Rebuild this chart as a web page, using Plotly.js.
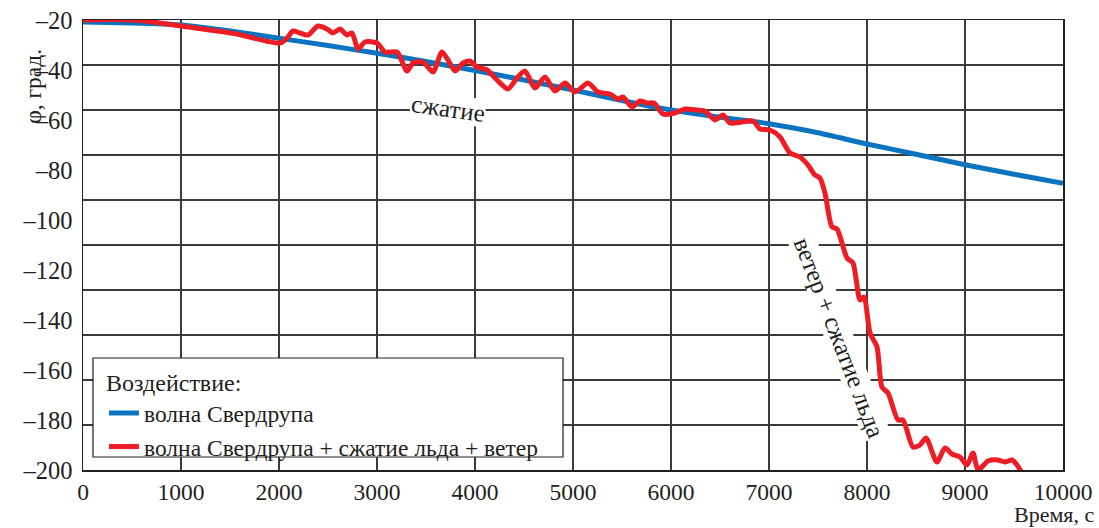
<!DOCTYPE html>
<html>
<head>
<meta charset="utf-8">
<script src="https://cdn.plot.ly/plotly-3.0.1.min.js"></script>
<style>html,body{margin:0;padding:0;background:#fff;}#chart{width:1099px;height:528px;}</style>
</head>
<body>
<div id="chart"></div>
<script>
// Blue: волна Свердрупа
const blueTime = [0, 500, 1000, 1500, 2000, 2500, 3000, 3500, 4000, 4500, 5000, 5500, 6000, 6500, 7000, 7500, 8000, 8500, 9000, 9500, 10000];
const bluePhi  = [-20.8, -21.2, -22, -24.4, -27.3, -30.2, -33.3, -36.6, -40.2, -44, -48, -52.2, -56, -58.9, -61.5, -65.1, -69.6, -73.7, -77.9, -81.7, -85.3];

// Red: волна Свердрупа + сжатие льда + ветер
const redTime = [0, 300, 612, 1000, 1531, 2010, 2082, 2143, 2214, 2296, 2398, 2490, 2551, 2622, 2694, 2745, 2806, 2878, 3000, 3082, 3204, 3306, 3367, 3469, 3571, 3663, 3724, 3796, 3878, 3949, 4020, 4122, 4255, 4337, 4429, 4510, 4612, 4714, 4816, 4918, 5020, 5153, 5255, 5378, 5459, 5510, 5602, 5684, 5755, 5827, 5918, 6041, 6143, 6265, 6347, 6449, 6531, 6602, 6724, 6837, 6908, 7010, 7112, 7214, 7316, 7398, 7469, 7520, 7571, 7643, 7694, 7796, 7857, 7929, 7969, 8031, 8102, 8153, 8214, 8316, 8367, 8469, 8541, 8602, 8714, 8796, 8867, 8949, 9020, 9082, 9133, 9235, 9337, 9408, 9480, 9531, 9582];
const redPhi  = [-20, -19.8, -20.3, -22.4, -25.3, -29.2, -27.2, -24.4, -25.2, -26, -22.4, -23.6, -25.2, -23.6, -26, -25.2, -31.6, -28.8, -29.2, -32.8, -32.8, -40.4, -37.2, -36.8, -40.8, -32.8, -36, -40.4, -37.2, -36.4, -38.8, -40, -45.2, -47.6, -43.2, -40.4, -47.2, -42.8, -48.4, -45.2, -48.8, -45.2, -48.8, -49.6, -51.6, -50.8, -54.8, -52.4, -53.2, -53.2, -57.6, -57.2, -55.6, -56, -56.4, -60, -58, -61.2, -60.8, -60.4, -63.6, -64, -66.8, -73.2, -74.8, -78, -82, -83.2, -89.2, -102.8, -103.6, -115.2, -117.2, -132, -130.8, -145.2, -150.8, -166.8, -169.2, -180, -180, -190.8, -190, -187.2, -196.8, -191.2, -193.6, -194.8, -198, -193.2, -200, -196.4, -196, -196.8, -196, -198, -201.2];

const xTicks = [0, 1000, 2000, 3000, 4000, 5000, 6000, 7000, 8000, 9000, 10000];
const xTickText = ["0", "1000", "2000", "3000", "4000", "5000", "6000", "7000", "8000", "9000", "10000"];
const yTicks = [-20, -40, -60, -80, -100, -120, -140, -160, -180, -200];
const yTickText = ["–20", "–40", "–60", "–80", "–100", "–120", "–140", "–160", "–180", "–200"];
const seriesNames = ["волна Свердрупа", "волна Свердрупа + сжатие льда + ветер"];

const FONT = "Liberation Serif";
const INK = "#231f20";
const GRID = "#3a3a3a";

const traces = [
  {x: blueTime, y: bluePhi, name: seriesNames[0], mode: "lines", type: "scatter",
   line: {color: "#0a74c0", width: 5, shape: "spline", smoothing: 0.5}},
  {x: redTime, y: redPhi, name: seriesNames[1], mode: "lines", type: "scatter",
   line: {color: "#ee1c25", width: 5, shape: "spline", smoothing: 0.7}},
  {x: [null], y: [null], yaxis: "y2", showlegend: false, hoverinfo: "skip", mode: "lines"}
];

const layout = {
  width: 1099, height: 528,
  margin: {l: 83, r: 36, t: 20, b: 58},
  paper_bgcolor: "#fff", plot_bgcolor: "#fff",
  font: {family: FONT, size: 24, color: INK},
  showlegend: true,
  legend: {
    x: 0.0214, y: 0.2444, xanchor: "left", yanchor: "top",
    bgcolor: "rgba(0,0,0,0)", borderwidth: 0,
    font: {family: FONT, size: 23.5, color: INK},
    title: {text: "Воздействие:", font: {family: FONT, size: 24, color: INK}},
    itemwidth: 30, tracegroupgap: 0
  },
  shapes: [
    {type: "rect", xref: "paper", yref: "paper", x0: 0.0102, x1: 0.4898, y0: 0.0289, y1: 0.2489,
     fillcolor: "#fff", line: {color: INK, width: 1.2}, layer: "above"}
  ],
  xaxis: {
    range: [0, 10000], tickvals: xTicks, ticktext: xTickText, ticks: "", showgrid: true, gridcolor: GRID, gridwidth: 1.3,
    zeroline: false, showline: true, linecolor: INK, linewidth: 1.5, mirror: true,
    tickfont: {family: FONT, size: 23.5, color: INK}, fixedrange: true
  },
  yaxis: {
    range: [-200, -20], tickvals: yTicks, ticktext: yTickText, ticks: "", showgrid: false,
    zeroline: false, showline: true, linecolor: INK, linewidth: 1.5, mirror: true,
    tickfont: {family: FONT, size: 24.5, color: INK}, ticklabelstandoff: 4, fixedrange: true
  },
  yaxis2: {
    overlaying: "y", range: [0, 10], dtick: 1, showgrid: true, gridcolor: GRID, gridwidth: 1.3,
    showticklabels: false, ticks: "", zeroline: false, showline: false, fixedrange: true
  },
  annotations: [
    {text: "сжатие", x: 3724, y: -55.4, xref: "x", yref: "y", showarrow: false, textangle: 8,
     font: {family: FONT, size: 25, color: INK}, bgcolor: "#fff", borderpad: 0},
    {text: "ветер + сжатие льда", x: 7720, y: -146.8, xref: "x", yref: "y", showarrow: false, textangle: 69,
     font: {family: FONT, size: 25, color: INK}, bgcolor: "#fff", borderpad: 0},
    {text: "φ, град.", x: -0.067, y: 0.94, xref: "paper", yref: "paper", showarrow: false, textangle: -90,
     font: {family: FONT, size: 23.5, color: INK}},
    {text: "Время, с", x: 1.0327, y: -0.1289, xref: "paper", yref: "paper", showarrow: false,
     xanchor: "right", yanchor: "bottom", borderpad: 0, font: {family: FONT, size: 22, color: INK}}
  ]
};

Plotly.newPlot("chart", traces, layout, {displayModeBar: false, staticPlot: true});
</script>
</body>
</html>
